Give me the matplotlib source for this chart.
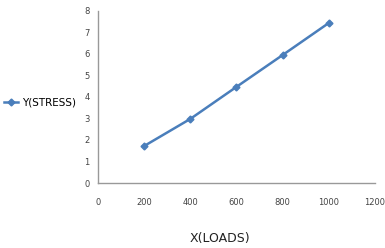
import matplotlib
matplotlib.use("Agg")
import matplotlib.pyplot as plt

plt.rcParams['font.family'] = ['Liberation Sans Narrow', 'DejaVu Sans']

# data
loads = [200, 400, 600, 800, 1000]
stress = [1.72, 2.98, 4.47, 5.95, 7.44]

fig = plt.figure(figsize=(3.85, 2.48), dpi=100)
ax = fig.add_axes([0.2545, 0.262, 0.7195, 0.694])

line, = ax.plot(loads, stress, color="#4a7ebb", linewidth=1.8, marker="D",
                markersize=3.5, label="Y(STRESS)")

ax.set_xlim(0, 1200)
ax.set_ylim(0, 8)
ax.set_xticks(range(0, 1201, 200))
ax.set_yticks(range(0, 9))
ax.tick_params(length=0, labelsize=6, colors="#444444")
ax.tick_params(axis="x", pad=11)
ax.tick_params(axis="y", pad=6)

for side in ["top", "right"]:
    ax.spines[side].set_visible(False)
for side in ["left", "bottom"]:
    ax.spines[side].set_color("#999999")
    ax.spines[side].set_linewidth(1)

fig.text(0.571, 0.04, "X(LOADS)", fontsize=9, ha="center", va="center", color="#222222")

fig.legend(handles=[line], loc="center left", bbox_to_anchor=(0.01, 0.585),
           frameon=False, fontsize=7.5, handlelength=1.4, handletextpad=0.3,
           borderaxespad=0, borderpad=0)

fig.savefig("out.png", dpi=100)
